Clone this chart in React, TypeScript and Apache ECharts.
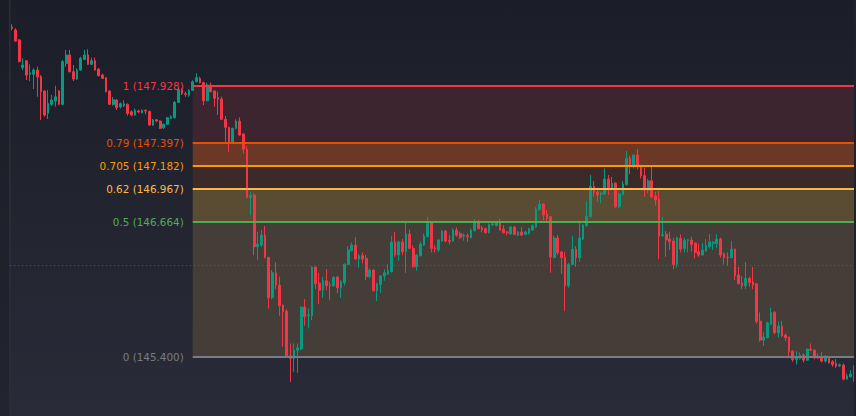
import React, { useEffect, useRef } from "react";
import * as echarts from "echarts";

// OHLC values (one entry per candle, left to right)
const opens = [
  148.478, 148.450, 148.357, 148.099, 148.164, 148.037, 148.037, 148.077, 148.014, 147.881,
  147.673, 147.757, 147.788, 147.881, 147.757, 148.139, 148.217, 148.061, 147.993, 148.077,
  148.176, 148.217, 148.130, 148.164, 148.086, 148.030, 148.005, 147.881, 147.757, 147.797,
  147.732, 147.744, 147.757, 147.688, 147.657, 147.694, 147.679, 147.701, 147.691, 147.564,
  147.613, 147.601, 147.539, 147.570, 147.626, 147.632, 147.775, 147.890, 147.856, 147.841,
  147.887, 147.968, 147.999, 147.959, 147.791, 147.937, 147.881, 147.819, 147.806, 147.617,
  147.542, 147.399, 147.533, 147.601, 147.480, 147.337, 146.889, 146.911, 146.429, 146.444,
  146.537, 146.329, 145.953, 146.186, 146.071, 145.884, 145.828, 145.412, 145.387, 145.464,
  145.474, 145.866, 145.785, 145.785, 146.239, 146.090, 146.024, 146.112, 146.074, 146.065,
  146.146, 146.046, 146.093, 146.264, 146.391, 146.444, 146.314, 146.345, 146.320, 146.149,
  146.211, 146.018, 146.077, 146.155, 146.174, 146.196, 146.473, 146.351, 146.473, 146.382,
  146.547, 146.413, 146.242, 146.345, 146.444, 146.522, 146.656, 146.419, 146.398, 146.482,
  146.575, 146.488, 146.482, 146.584, 146.550, 146.528, 146.531, 146.513, 146.578, 146.662,
  146.606, 146.597, 146.562, 146.631, 146.625, 146.656, 146.594, 146.566, 146.547, 146.612,
  146.537, 146.566, 146.544, 146.550, 146.584, 146.612, 146.774, 146.827, 146.734, 146.708,
  146.326, 146.510, 146.379, 146.332, 146.065, 146.264, 146.407, 146.326, 146.500, 146.625,
  146.708, 146.991, 146.939, 146.920, 146.920, 147.060, 146.973, 147.022, 146.802, 146.914,
  147.007, 147.253, 147.184, 147.284, 147.184, 147.091, 146.958, 147.044, 146.902, 146.874,
  146.531, 146.547, 146.500, 146.482, 146.264, 146.507, 146.413, 146.485, 146.491, 146.463,
  146.382, 146.351, 146.389, 146.429, 146.460, 146.460, 146.500, 146.364, 146.332, 146.326,
  146.407, 146.165, 146.090, 146.065, 146.133, 146.102, 146.083, 145.735, 145.558, 145.580,
  145.704, 145.816, 145.626, 145.688, 145.605, 145.586, 145.455, 145.377, 145.387, 145.418,
  145.371, 145.474, 145.464, 145.396, 145.402, 145.362, 145.402, 145.356, 145.340, 145.318,
  145.325, 145.194, 145.216, 145.238,
];

const closes = [
  148.466, 148.347, 148.155, 148.124, 148.030, 148.052, 148.077, 148.014, 147.875, 147.657,
  147.766, 147.797, 147.828, 147.757, 148.155, 148.217, 148.061, 147.993, 148.077, 148.186,
  148.217, 148.130, 148.164, 148.077, 148.024, 147.999, 147.875, 147.757, 147.800, 147.726,
  147.763, 147.763, 147.673, 147.657, 147.701, 147.685, 147.701, 147.694, 147.564, 147.610,
  147.601, 147.533, 147.570, 147.632, 147.641, 147.775, 147.893, 147.859, 147.850, 147.887,
  147.968, 148.005, 147.959, 147.791, 147.937, 147.875, 147.813, 147.806, 147.617, 147.542,
  147.399, 147.533, 147.601, 147.470, 147.337, 146.889, 146.907, 146.429, 146.454, 146.537,
  146.329, 145.953, 146.186, 146.071, 145.878, 145.822, 145.402, 145.387, 145.464, 145.486,
  145.866, 145.776, 145.794, 146.239, 146.083, 146.024, 146.112, 146.065, 146.068, 146.143,
  146.046, 146.102, 146.267, 146.398, 146.444, 146.314, 146.345, 146.314, 146.149, 146.211,
  146.018, 146.080, 146.155, 146.186, 146.205, 146.473, 146.351, 146.473, 146.382, 146.547,
  146.413, 146.242, 146.351, 146.454, 146.528, 146.646, 146.413, 146.407, 146.491, 146.575,
  146.482, 146.479, 146.584, 146.537, 146.516, 146.537, 146.522, 146.584, 146.656, 146.597,
  146.584, 146.562, 146.637, 146.643, 146.656, 146.584, 146.559, 146.559, 146.612, 146.544,
  146.566, 146.537, 146.566, 146.597, 146.625, 146.780, 146.827, 146.724, 146.693, 146.332,
  146.510, 146.373, 146.326, 146.065, 146.264, 146.407, 146.326, 146.510, 146.631, 146.715,
  146.991, 146.935, 146.911, 146.929, 147.060, 146.973, 147.022, 146.802, 146.920, 147.013,
  147.253, 147.191, 147.284, 147.184, 147.091, 146.958, 147.044, 146.895, 146.864, 146.528,
  146.541, 146.491, 146.475, 146.264, 146.513, 146.407, 146.488, 146.494, 146.451, 146.376,
  146.351, 146.398, 146.438, 146.473, 146.469, 146.500, 146.351, 146.326, 146.326, 146.407,
  146.158, 146.083, 146.065, 146.133, 146.093, 146.071, 145.729, 145.558, 145.586, 145.719,
  145.816, 145.626, 145.688, 145.595, 145.580, 145.449, 145.377, 145.399, 145.418, 145.371,
  145.474, 145.464, 145.393, 145.390, 145.362, 145.396, 145.346, 145.331, 145.315, 145.328,
  145.194, 145.225, 145.241, 145.309,
];

const lows = [
  148.447, 148.341, 148.149, 148.077, 147.984, 147.974, 147.900, 147.828, 147.610, 147.641,
  147.620, 147.744, 147.735, 147.750, 147.750, 148.108, 148.055, 147.974, 147.984, 148.071,
  148.170, 148.124, 148.124, 148.071, 148.018, 147.993, 147.868, 147.750, 147.744, 147.704,
  147.719, 147.732, 147.651, 147.645, 147.648, 147.676, 147.670, 147.663, 147.558, 147.555,
  147.589, 147.526, 147.526, 147.564, 147.620, 147.626, 147.769, 147.844, 147.828, 147.828,
  147.881, 147.962, 147.952, 147.750, 147.785, 147.868, 147.735, 147.657, 147.610, 147.408,
  147.315, 147.393, 147.526, 147.464, 147.299, 146.883, 146.724, 146.351, 146.304, 146.429,
  146.320, 145.853, 145.940, 146.034, 145.785, 145.496, 145.396, 145.169, 145.262, 145.253,
  145.468, 145.692, 145.667, 145.744, 146.034, 145.896, 145.953, 146.024, 145.931, 146.056,
  145.994, 145.953, 146.065, 146.258, 146.385, 146.304, 146.233, 146.273, 146.118, 146.133,
  146.012, 145.922, 145.999, 146.112, 146.165, 146.189, 146.335, 146.298, 146.351, 146.186,
  146.407, 146.236, 146.205, 146.338, 146.438, 146.516, 146.376, 146.376, 146.382, 146.475,
  146.469, 146.451, 146.475, 146.522, 146.500, 146.485, 146.475, 146.507, 146.569, 146.590,
  146.562, 146.550, 146.553, 146.625, 146.619, 146.578, 146.553, 146.537, 146.541, 146.537,
  146.531, 146.531, 146.537, 146.544, 146.578, 146.606, 146.768, 146.678, 146.662, 146.186,
  146.320, 146.351, 146.174, 145.828, 146.046, 146.258, 146.242, 146.289, 146.491, 146.615,
  146.702, 146.895, 146.849, 146.833, 146.911, 146.911, 146.967, 146.787, 146.787, 146.908,
  147.001, 147.104, 147.159, 147.150, 147.066, 146.895, 146.927, 146.880, 146.812, 146.314,
  146.522, 146.335, 146.398, 146.220, 146.233, 146.376, 146.376, 146.376, 146.382, 146.320,
  146.335, 146.345, 146.382, 146.413, 146.398, 146.419, 146.326, 146.264, 146.252, 146.320,
  146.118, 146.077, 146.034, 146.034, 146.056, 146.034, 145.713, 145.543, 145.505, 145.574,
  145.698, 145.611, 145.580, 145.589, 145.549, 145.393, 145.356, 145.331, 145.377, 145.349,
  145.365, 145.455, 145.380, 145.380, 145.349, 145.349, 145.340, 145.309, 145.300, 145.306,
  145.185, 145.188, 145.210, 145.169,
];

const highs = [
  148.503, 148.466, 148.366, 148.186, 148.170, 148.130, 148.093, 148.108, 148.030, 147.890,
  147.890, 147.844, 147.931, 147.890, 148.170, 148.264, 148.264, 148.124, 148.093, 148.201,
  148.264, 148.270, 148.192, 148.195, 148.093, 148.043, 148.011, 147.887, 147.825, 147.806,
  147.775, 147.794, 147.766, 147.701, 147.719, 147.707, 147.710, 147.710, 147.698, 147.620,
  147.620, 147.607, 147.579, 147.638, 147.657, 147.788, 147.906, 147.906, 147.875, 147.900,
  147.980, 148.046, 148.014, 147.968, 147.959, 147.959, 147.887, 147.875, 147.828, 147.648,
  147.548, 147.539, 147.617, 147.635, 147.486, 147.368, 146.942, 146.927, 146.569, 146.584,
  146.621, 146.335, 146.211, 146.282, 146.149, 145.890, 145.847, 145.527, 145.527, 145.527,
  145.872, 145.940, 145.853, 146.245, 146.245, 146.186, 146.149, 146.220, 146.102, 146.155,
  146.158, 146.115, 146.273, 146.435, 146.469, 146.519, 146.364, 146.376, 146.351, 146.227,
  146.220, 146.093, 146.165, 146.217, 146.264, 146.531, 146.565, 146.485, 146.500, 146.671,
  146.590, 146.444, 146.360, 146.475, 146.553, 146.706, 146.668, 146.444, 146.500, 146.584,
  146.584, 146.537, 146.600, 146.609, 146.569, 146.553, 146.553, 146.600, 146.687, 146.678,
  146.622, 146.606, 146.646, 146.662, 146.668, 146.687, 146.631, 146.575, 146.622, 146.619,
  146.575, 146.612, 146.575, 146.606, 146.640, 146.799, 146.864, 146.833, 146.771, 146.715,
  146.531, 146.537, 146.391, 146.379, 146.276, 146.528, 146.435, 146.662, 146.643, 146.849,
  147.097, 147.041, 146.979, 146.942, 147.159, 147.097, 147.079, 147.029, 146.932, 147.041,
  147.321, 147.277, 147.290, 147.340, 147.191, 147.166, 147.060, 147.191, 146.942, 146.948,
  146.706, 146.575, 146.569, 146.513, 146.522, 146.544, 146.513, 146.500, 146.522, 146.469,
  146.457, 146.460, 146.500, 146.547, 146.482, 146.547, 146.513, 146.376, 146.376, 146.482,
  146.413, 146.242, 146.155, 146.286, 146.149, 146.239, 146.093, 145.816, 145.636, 145.729,
  145.859, 145.828, 145.729, 145.735, 145.620, 145.592, 145.464, 145.455, 145.443, 145.433,
  145.480, 145.527, 145.471, 145.433, 145.449, 145.418, 145.412, 145.371, 145.380, 145.340,
  145.340, 145.247, 145.278, 145.325,
];

// Fibonacci retracement levels
const fibRatios = [1, 0.79, 0.705, 0.62, 0.5, 0];
const fibPrices = [147.928, 147.397, 147.182, 146.967, 146.664, 145.4];
const fibLineColors = ["#f23645", "#e65100", "#ff9800", "#ffb74d", "#4caf50", "#787b86"];
const fibBandColors = ["#3d2530", "#6c3826", "#3c2a29", "#5a4c32", "#453d38"];
const fibStartIndex = 50;
const crosshairPrice = 146.265;
const yMin = 144.85;
const yMax = 148.73;

export default function App() {
  const ref = useRef<HTMLDivElement>(null);

  useEffect(() => {
    if (!ref.current) return;
    const chart = echarts.init(ref.current, null, { renderer: "svg" });
    const categories = opens.map((_, i) => String(i + 1));
    const data = opens.map((o, i) => [o, closes[i], lows[i], highs[i]]);
    const lastIndex = opens.length - 1;

    const bands = fibBandColors.map((c, i) => [
      { coord: [fibStartIndex, fibPrices[i]], itemStyle: { color: c, opacity: 1 } },
      { coord: [lastIndex, fibPrices[i + 1]] },
    ]);

    const fibLines: any[] = fibPrices.map((p, i) => [
      {
        coord: [fibStartIndex, p],
        lineStyle: { color: fibLineColors[i], width: 2, type: "solid" },
        label: {
          show: true,
          position: "start",
          distance: 9,
          formatter: `${fibRatios[i]} (${p.toFixed(3)})`,
          color: fibLineColors[i],
          fontFamily: "DejaVu Sans",
          fontSize: 10.4,
        },
      },
      { coord: [lastIndex, p] },
    ]);

    const markLineData = [
      {
        yAxis: crosshairPrice,
        lineStyle: { color: "#5d606b", width: 1, type: [1, 3] },
        label: { show: false },
      },
      ...fibLines,
    ];

    chart.setOption({
      animation: false,
      backgroundColor: {
        type: "linear",
        x: 0,
        y: 0,
        x2: 0,
        y2: 1,
        colorStops: [
          { offset: 0, color: "#1b1e28" },
          { offset: 1, color: "#292c38" },
        ],
      },
      grid: { left: 10.19, right: -1.31, top: 0, bottom: 0, containLabel: false },
      xAxis: { type: "category", data: categories, show: false, boundaryGap: true },
      yAxis: { type: "value", min: yMin, max: yMax, show: false, splitLine: { show: false } },
      series: [
        {
          type: "candlestick",
          data,
          barWidth: 2.2,
          itemStyle: {
            color: "#089981",
            color0: "#f23645",
            borderColor: "#089981",
            borderColor0: "#f23645",
            borderWidth: 1,
          },
          markArea: { silent: true, data: bands },
          markLine: {
            silent: true,
            symbol: ["none", "none"],
            data: markLineData,
          },
        },
      ],
      graphic: [
        {
          type: "rect",
          shape: { x: 0, y: 0, width: 9, height: 416 },
          style: {
            fill: {
              type: "linear",
              x: 0,
              y: 0,
              x2: 0,
              y2: 1,
              colorStops: [
                { offset: 0, color: "#1a1d26" },
                { offset: 1, color: "#22252f" },
              ],
            },
          },
          silent: true,
        },
        {
          type: "rect",
          shape: { x: 9, y: 0, width: 1.5, height: 416 },
          style: { fill: "#2a2e39" },
          silent: true,
        },
        {
          type: "rect",
          shape: { x: 854, y: 0, width: 2, height: 416 },
          style: { fill: "#1f222c" },
          z: 100,
          silent: true,
        },
      ],
    });

    return () => chart.dispose();
  }, []);

  return (
    <div
      ref={ref}
      style={{ position: "absolute", left: 0, top: 0, width: 856, height: 416 }}
    />
  );
}
